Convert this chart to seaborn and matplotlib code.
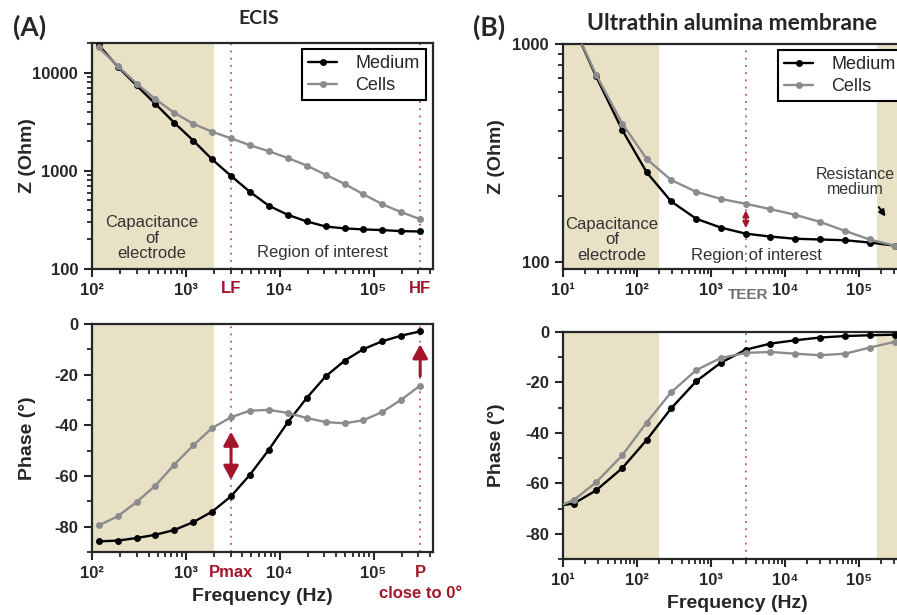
import numpy as np
import pandas as pd
import seaborn as sns
import matplotlib.pyplot as plt
from matplotlib.ticker import FixedLocator, FuncFormatter, LogLocator, MultipleLocator, NullFormatter

# ECIS (A)
freq_a = [118, 188, 298, 474, 754, 1200, 1900, 3030, 4820, 7670, 12200, 19400,
          30800, 49100, 78000, 124000, 197000, 314000]
z_med_a = [19000, 11500, 7400, 4800, 3080, 2030, 1310, 887, 610, 440, 356, 305,
           271, 259, 253, 249, 243, 241]
z_cell_a = [18000, 11700, 7730, 5360, 3890, 3010, 2500, 2140, 1820, 1580, 1350, 1130,
            914, 735, 577, 457, 379, 322]
ph_med_a = [-85.8, -85.5, -84.5, -83.2, -81.3, -78.2, -74.1, -68.0, -59.5, -49.6, -38.8,
            -29.2, -20.7, -14.5, -9.9, -6.8, -4.6, -2.9]
ph_cell_a = [-79.5, -75.9, -70.3, -63.8, -55.5, -47.9, -41.1, -36.8, -34.2, -33.9, -35.1,
             -37.1, -38.7, -39.2, -38.0, -34.7, -29.9, -24.3]

# Ultrathin alumina membrane (B)
freq_b = [8, 14, 28, 63, 135, 288, 631, 1350, 2950, 6310, 13500, 29500, 64600, 138000, 302000]
z_med_b = [2000, 1200, 710, 404, 258, 190, 158, 144, 135, 131, 128, 127, 126, 123, 119]
z_cell_b = [2000, 1200, 723, 432, 297, 238, 210, 195, 185, 175, 165, 153, 139, 127, 119]
ph_med_b = [-69.0, -68.0, -62.8, -54.0, -42.8, -30.3, -19.5, -12.2, -7.0, -4.6, -3.3,
            -2.2, -1.6, -1.3, -1.05]
ph_cell_b = [-69.5, -66.6, -59.6, -48.9, -35.9, -23.9, -15.1, -10.3, -8.3, -7.9, -8.6,
             -9.2, -8.6, -6.2, -3.9]

series_labels = ['Medium', 'Cells']
line_colors = ['black', '#8c8c8c']

lf, hf = 3030, 314000
teer = 2950

sns.set_style('ticks')
plt.rcParams['font.family'] = ['Liberation Sans', 'DejaVu Sans']
plt.rcParams['axes.linewidth'] = 1.6

TAN = '#e8e1c6'
RED = '#a3162a'
DOT = '#c8506a'

W, H = 897, 615
fig = plt.figure(figsize=(W / 100, H / 100), dpi=100)


def add_ax(left, top, right, bottom):
    return fig.add_axes([left / W, 1 - bottom / H, (right - left) / W, (bottom - top) / H])


sup = {1: '¹', 2: '²', 3: '³', 4: '⁴', 5: '⁵'}


def dec_fmt(v, pos):
    e = int(round(np.log10(v)))
    return '10' + sup.get(e, str(e))


def style_x(ax, lo, hi):
    ax.set_xscale('log')
    ax.set_xlim(lo, hi)
    ax.xaxis.set_major_locator(LogLocator(base=10, numticks=10))
    ax.xaxis.set_major_formatter(FuncFormatter(dec_fmt))
    ax.xaxis.set_minor_locator(LogLocator(base=10, subs=np.arange(2, 10), numticks=20))
    ax.xaxis.set_minor_formatter(NullFormatter())
    ax.tick_params(axis='both', which='major', direction='out', length=6, width=1.5,
                   labelsize=12, pad=4)
    ax.tick_params(axis='both', which='minor', direction='out', length=3.5, width=1.3)
    for lab in ax.get_xticklabels() + ax.get_yticklabels():
        lab.set_fontweight('bold')


def draw(ax, freq, med, cell):
    handles = []
    for vals, lab, col in zip([med, cell], series_labels, line_colors):
        sns.lineplot(x=freq, y=vals, ax=ax, color=col, marker='o', markersize=5,
                     markeredgecolor=col, markeredgewidth=0, linewidth=1.7,
                     sort=False, zorder=3)
        handles.append(ax.lines[-1])
    return handles


def legend(ax, handles, loc, anchor):
    leg = ax.legend(handles, series_labels, loc=loc, bbox_to_anchor=anchor,
                    borderaxespad=0, fontsize=13, frameon=True, fancybox=False,
                    framealpha=1, edgecolor='black', handlelength=1.6,
                    handletextpad=1.0, borderpad=0.35, labelspacing=0.25)
    leg.get_frame().set_linewidth(1.5)


def vdot(ax, x):
    ax.axvline(x, color=DOT, linestyle=(0, (1, 3)), linewidth=1.3, zorder=2)


def labels(ax, ylab, ypos, xlab=None, xpos=None):
    ax.set_ylabel(ylab, fontsize=14, fontweight='bold', va='center')
    ax.yaxis.set_label_coords(*ypos)
    if xlab:
        ax.set_xlabel(xlab, fontsize=14, fontweight='bold', va='center')
        ax.xaxis.set_label_coords(*xpos)


# ---------- (A) impedance ----------
ax1 = add_ax(92, 43, 433, 269)
ax1.axvspan(50, 2000, color=TAN, zorder=0, lw=0)
vdot(ax1, lf)
vdot(ax1, hf)
h = draw(ax1, freq_a, z_med_a, z_cell_a)
ax1.set_yscale('log')
ax1.set_ylim(100, 20000)
ax1.yaxis.set_major_locator(FixedLocator([100, 1000, 10000]))
ax1.yaxis.set_major_formatter(FuncFormatter(lambda v, p: f'{int(v)}'))
style_x(ax1, 100, 4.3e5)
labels(ax1, 'Z (Ohm)', (-0.19, 0.5))
legend(ax1, h, 'upper right', (0.979, 0.973))
ax1.text(0.176, 0.137, 'Capacitance\nof\nelectrode', transform=ax1.transAxes, ha='center',
         va='center', fontsize=12, color='#333333', linespacing=1.05)
ax1.text(0.677, 0.071, 'Region of interest', transform=ax1.transAxes, ha='center',
         va='center', fontsize=12, color='#333333')
tr = ax1.get_xaxis_transform()
ax1.text(lf, -0.088, 'LF', transform=tr, ha='center', va='center', fontsize=12,
         fontweight='bold', color=RED)
ax1.text(hf, -0.088, 'HF', transform=tr, ha='center', va='center', fontsize=12,
         fontweight='bold', color=RED)

# ---------- (A) phase ----------
ax2 = add_ax(92, 324, 433, 552)
ax2.axvspan(50, 2000, color=TAN, zorder=0, lw=0)
vdot(ax2, lf)
vdot(ax2, hf)
draw(ax2, freq_a, ph_med_a, ph_cell_a)
ax2.set_ylim(-90, 0)
ax2.yaxis.set_major_locator(MultipleLocator(20))
ax2.yaxis.set_minor_locator(MultipleLocator(10))
ax2.yaxis.set_major_formatter(FuncFormatter(lambda v, p: f'{int(v)}'))
style_x(ax2, 100, 4.3e5)
labels(ax2, 'Phase (°)', (-0.19, 0.5), 'Frequency (Hz)', (0.5, -0.197))
ax2.annotate('', xy=(lf, -42.5), xytext=(lf, -61.5),
             arrowprops=dict(arrowstyle='<|-|>,head_width=0.3,head_length=0.55',
                             color=RED, lw=2.2, mutation_scale=15,
                             shrinkA=0, shrinkB=0))
ax2.annotate('', xy=(hf, -8.0), xytext=(hf, -20.5),
             arrowprops=dict(arrowstyle='-|>,head_width=0.3,head_length=0.55',
                             color=RED, lw=2.2, mutation_scale=15,
                             shrinkA=0, shrinkB=0))
tr = ax2.get_xaxis_transform()
ax2.text(lf, -0.088, 'Pmax', transform=tr, ha='center', va='center', fontsize=12,
         fontweight='bold', color=RED)
ax2.text(hf, -0.088, 'P', transform=tr, ha='center', va='center', fontsize=12,
         fontweight='bold', color=RED)
ax2.text(hf, -0.18, 'close to 0°', transform=tr, ha='center', va='center', fontsize=12,
         fontweight='bold', color=RED)

# ---------- (B) impedance ----------
xl_b = (10, 10 ** 5.7)
ax3 = add_ax(563, 44, 911, 269)
ax3.axvspan(5, 200, color=TAN, zorder=0, lw=0)
ax3.axvspan(1.75e5, 1e6, color=TAN, zorder=0, lw=0)
vdot(ax3, teer)
h = draw(ax3, freq_b, z_med_b, z_cell_b)
ax3.set_yscale('log')
ax3.set_ylim(93, 1000)
ax3.yaxis.set_major_locator(FixedLocator([100, 1000]))
ax3.yaxis.set_major_formatter(FuncFormatter(lambda v, p: f'{int(v)}'))
style_x(ax3, *xl_b)
labels(ax3, 'Z (Ohm)', (-0.19, 0.5))
legend(ax3, h, 'upper left', (0.618, 0.973))
ax3.text(0.141, 0.129, 'Capacitance\nof\nelectrode', transform=ax3.transAxes, ha='center',
         va='center', fontsize=12, color='#333333', linespacing=1.05)
ax3.text(0.555, 0.062, 'Region of interest', transform=ax3.transAxes, ha='center',
         va='center', fontsize=12, color='#333333')
ax3.text(0.84, 0.387, 'Resistance\nmedium', transform=ax3.transAxes, ha='center',
         va='center', fontsize=11.5, color='#333333', linespacing=1.05)
ax3.annotate('', xy=(2.39e5, 158), xytext=(1.75e5, 183),
             arrowprops=dict(arrowstyle='-|>', color='black', lw=1.5, mutation_scale=9))
ax3.annotate('', xy=(teer, 178), xytext=(teer, 139),
             arrowprops=dict(arrowstyle='<|-|>', color=RED, lw=1.5, mutation_scale=9))
ax3.text(3160, -0.115, 'TEER', transform=ax3.get_xaxis_transform(), ha='center',
         va='center', fontsize=11, fontweight='bold', color='#707070')

# ---------- (B) phase ----------
ax4 = add_ax(563, 332, 911, 559)
ax4.axvspan(5, 200, color=TAN, zorder=0, lw=0)
ax4.axvspan(1.75e5, 1e6, color=TAN, zorder=0, lw=0)
vdot(ax4, teer)
draw(ax4, freq_b, ph_med_b, ph_cell_b)
ax4.set_ylim(-90, 0)
ax4.yaxis.set_major_locator(MultipleLocator(20))
ax4.yaxis.set_minor_locator(MultipleLocator(10))
ax4.yaxis.set_major_formatter(FuncFormatter(lambda v, p: f'{int(v)}'))
style_x(ax4, *xl_b)
labels(ax4, 'Phase (°)', (-0.19, 0.5), 'Frequency (Hz)', (0.5, -0.194))

for ax in [ax1, ax2, ax3, ax4]:
    for sp in ax.spines.values():
        sp.set_visible(True)
        sp.set_linewidth(1.6)

# titles
fig.text(13 / W, 1 - 27 / H, '(A)', fontsize=19, fontweight='bold', family='Lato',
         ha='left', va='center')
fig.text(259 / W, 1 - 18 / H, 'ECIS', fontsize=14, fontweight='bold', family='Lato',
         ha='center', va='center')
fig.text(473 / W, 1 - 27 / H, '(B)', fontsize=19, fontweight='bold', family='Lato',
         ha='left', va='center')
fig.text(732 / W, 1 - 24 / H, 'Ultrathin alumina membrane', fontsize=16.5,
         fontweight='bold', family='Lato', ha='center', va='center')

fig.savefig('out.png', dpi=100)
